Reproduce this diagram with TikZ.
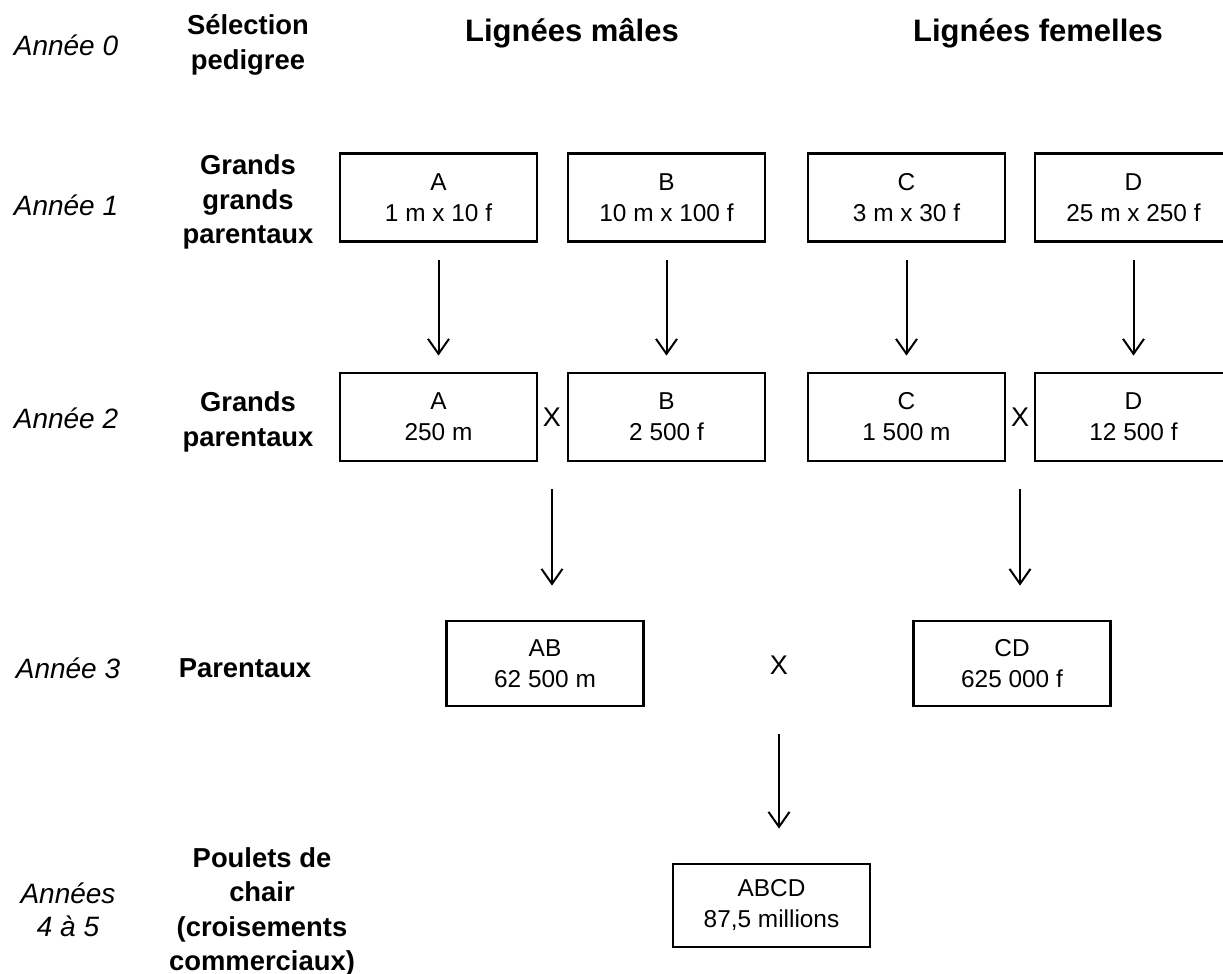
\documentclass[tikz,border=0pt]{standalone}
\usepackage{fontspec}
\setmainfont{Liberation Sans}
\usetikzlibrary{arrows.meta}

\begin{document}
\begin{tikzpicture}[x=0.5pt, y=-0.5pt,
	boite/.style={draw, line width=1.4pt, minimum width=98.5pt, minimum height=44pt, inner sep=0pt, align=center, font=\fontsize{12.2}{15.5}\selectfont},
	annee/.style={align=center, font=\itshape\fontsize{14}{16.5}\selectfont},
	etape/.style={align=center, font=\bfseries\fontsize{13.7}{17.3}\selectfont},
	titre/.style={font=\bfseries\fontsize{15.5}{18}\selectfont},
	croix/.style={font=\fontsize{13.5}{15}\selectfont, inner sep=0pt},
	fleche/.style={line width=1pt, -{Straight Barb[length=7.5pt, width=10.5pt, line width=1pt]}}]
	\useasboundingbox (0,0) rectangle (1223,974);
	% colonnes de gauche
	\node[annee] (an0) at (66,45) {Année 0};
	\node[annee] (an1) at (66,205) {Année 1};
	\node[annee] (an2) at (66,418) {Année 2};
	\node[annee] (an3) at (68,668) {Année 3};
	\node[annee] (an4) at (68,910) {Années\\4 à 5};
	\node[etape] (sel) at (248,45) {Sélection\\pedigree};
	\node[etape] (ggp) at (248,202) {Grands\\grands\\parentaux};
	\node[etape] (gp) at (248,422) {Grands\\parentaux};
	\node[etape] (par) at (245,668) {Parentaux};
	\node[etape] (pc) at (262,912) {Poulets de\\chair\\(croisements\\commerciaux)};
	\node[titre] (males) at (572,33) {Lignées mâles};
	\node[titre] (femelles) at (1038,33) {Lignées femelles};
	% annee 1
	\node[boite] (a1) at (438.5,197.5) {A\\1 m x 10 f};
	\node[boite] (b1) at (666.5,197.5) {B\\10 m x 100 f};
	\node[boite] (c1) at (906.5,197.5) {C\\3 m x 30 f};
	\node[boite] (d1) at (1133.5,197.5) {D\\25 m x 250 f};
	% annee 2
	\node[boite] (a2) at (438.5,417) {A\\250 m};
	\node[boite] (b2) at (666.5,417) {B\\2 500 f};
	\node[boite] (c2) at (906.5,417) {C\\1 500 m};
	\node[boite] (d2) at (1133.5,417) {D\\12 500 f};
	\node[croix] (xab) at (552,417) {X};
	\node[croix] (xcd) at (1020,417) {X};
	% annee 3 et 4
	\node[boite, minimum height=42.5pt] (ab) at (545,663.5) {AB\\62 500 m};
	\node[boite, minimum height=42.5pt] (cd) at (1012,663.5) {CD\\625 000 f};
	\node[croix] (xabcd) at (779,665) {X};
	\node[boite, minimum height=41.5pt] (abcd) at (771.5,905.5) {ABCD\\87,5 millions};
	% fleches
	\draw[fleche, shorten <=8.5pt, shorten >=8pt] (a1) -- (a2);
	\draw[fleche, shorten <=8.5pt, shorten >=8pt] (b1) -- (b2);
	\draw[fleche, shorten <=8.5pt, shorten >=8pt] (c1) -- (c2);
	\draw[fleche, shorten <=8.5pt, shorten >=8pt] (d1) -- (d2);
	\draw[fleche, shorten <=13.5pt, shorten >=17pt] (xab |- a2.south) -- (xab |- ab.north);
	\draw[fleche, shorten <=13.5pt, shorten >=17pt] (xcd |- c2.south) -- (xcd |- cd.north);
	\draw[fleche, shorten <=13.5pt, shorten >=17pt] (xabcd |- ab.south) -- (xabcd |- abcd.north);
\end{tikzpicture}
\end{document}
